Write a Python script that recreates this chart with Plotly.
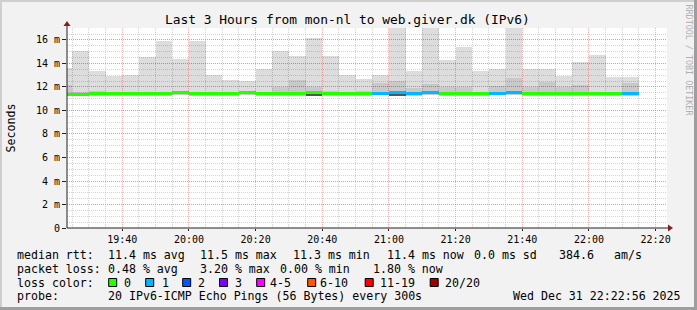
import plotly.graph_objects as go
from datetime import datetime, timedelta

# ---------------- data ----------------
end_times = [
    "2025-12-31 19:25", "2025-12-31 19:30", "2025-12-31 19:35", "2025-12-31 19:40",
    "2025-12-31 19:45", "2025-12-31 19:50", "2025-12-31 19:55", "2025-12-31 20:00",
    "2025-12-31 20:05", "2025-12-31 20:10", "2025-12-31 20:15", "2025-12-31 20:20",
    "2025-12-31 20:25", "2025-12-31 20:30", "2025-12-31 20:35", "2025-12-31 20:40",
    "2025-12-31 20:45", "2025-12-31 20:50", "2025-12-31 20:55", "2025-12-31 21:00",
    "2025-12-31 21:05", "2025-12-31 21:10", "2025-12-31 21:15", "2025-12-31 21:20",
    "2025-12-31 21:25", "2025-12-31 21:30", "2025-12-31 21:35", "2025-12-31 21:40",
    "2025-12-31 21:45", "2025-12-31 21:50", "2025-12-31 21:55", "2025-12-31 22:00",
    "2025-12-31 22:05", "2025-12-31 22:10", "2025-12-31 22:15",
]
median_ms = [11.35, 11.35, 11.42, 11.42, 11.42, 11.42, 11.42, 11.52, 11.42, 11.42,
             11.42, 11.52, 11.42, 11.42, 11.42, 11.52, 11.42, 11.42, 11.42, 11.44,
             11.50, 11.42, 11.50, 11.42, 11.42, 11.42, 11.44, 11.50, 11.42, 11.42,
             11.42, 11.42, 11.42, 11.42, 11.42]
loss_count = [0, 0, 0, 0, 0, 0, 0, 0, 0, 0,
              0, 0, 0, 0, 0, 0, 0, 0, 0, 1,
              1, 1, 1, 0, 0, 0, 1, 1, 0, 0,
              0, 0, 0, 0, 1]
ping_min = [11.20, 11.20, 11.27, 11.27, 11.27, 11.27, 11.27, 11.30, 11.27, 11.27,
            11.27, 11.30, 11.27, 11.27, 11.27, 11.25, 11.27, 11.27, 11.27, 11.28,
            11.25, 11.27, 11.30, 11.27, 11.27, 11.27, 11.28, 11.30, 11.27, 11.27,
            11.27, 11.27, 11.27, 11.27, 11.27]
ping_mid = [12.20, 11.55, 11.63, 11.50, 11.50, 11.50, 11.50, 11.70, 11.55, 11.50,
            11.50, 11.60, 11.50, 12.00, 12.62, 12.00, 11.70, 11.60, 11.70, 12.30,
            12.54, 11.90, 12.28, 12.00, 12.00, 11.50, 12.10, 12.77, 12.00, 12.40,
            11.97, 12.20, 11.55, 11.60, 12.34]
ping_max = [13.64, 15.03, 13.33, 12.90, 13.05, 14.52, 15.88, 14.41, 15.88, 13.05,
            12.62, 12.54, 13.53, 15.09, 14.66, 16.17, 14.66, 13.05, 12.68, 12.99,
            18.50, 13.33, 18.50, 14.32, 15.37, 13.33, 13.56, 18.50, 13.56, 13.50,
            12.90, 14.10, 14.75, 12.82, 12.82]
dense_low = [None] * 15 + [11.27] + [None] * 4 + [11.24] + [None] * 14

y_tick_vals = [0, 2, 4, 6, 8, 10, 12, 14, 16]
y_tick_text = ["0", "2 m", "4 m", "6 m", "8 m", "10 m", "12 m", "14 m", "16 m"]

loss_labels = ["0", "1", "2", "3", "4-5", "6-10", "11-19", "20/20"]
loss_colors = ["#26ff00", "#00b8ff", "#0059ff", "#7e00ff", "#ff00ff", "#ff5500", "#ff0000", "#a10000"]

title_text = "Last 3 Hours from mon-nl to web.giver.dk (IPv6)"
rtt_stats = ["median rtt:", "11.4 ms avg", "11.5 ms max", "11.3 ms min", "11.4 ms now",
             "0.0 ms sd", "384.6", "am/s"]
loss_stats = ["packet loss:", "0.48 % avg", "3.20 % max", "0.00 % min", "1.80 % now"]
probe_text = ["probe:", "20 IPv6-ICMP Echo Pings (56 Bytes) every 300s", "Wed Dec 31 22:22:56 2025"]

x_start = "2025-12-31 19:23:25"
x_end = "2025-12-31 22:23:25"
y_max = 17.02

# ---------------- geometry / style ----------------
W, H = 697, 310
L, R, T, B = 67, 667, 28, 228
MONO = "DejaVu Sans Mono"
STEP_MS = 300000


def px(x):
    return (x - L) / (R - L)


def py(y):
    return (B - y) / (B - T)


px_per_ms = (B - T) / y_max
line_h = 3.0 / px_per_ms

centers = [datetime.strptime(t, "%Y-%m-%d %H:%M") - timedelta(seconds=150) for t in end_times]


def loss_color(n):
    if n <= 3:
        return loss_colors[n]
    if n <= 5:
        return loss_colors[4]
    if n <= 10:
        return loss_colors[5]
    if n <= 19:
        return loss_colors[6]
    return loss_colors[7]


fig = go.Figure()

# smoke: full range
fig.add_trace(go.Bar(
    x=centers, base=ping_min, y=[hi - lo for hi, lo in zip(ping_max, ping_min)],
    width=STEP_MS, marker=dict(color="rgba(0,0,0,0.135)", line=dict(width=0)),
    hoverinfo="skip", showlegend=False))
# smoke: denser inner range
fig.add_trace(go.Bar(
    x=centers, base=ping_min, y=[m - lo for m, lo in zip(ping_mid, ping_min)],
    width=STEP_MS, marker=dict(color="rgba(0,0,0,0.09)", line=dict(width=0)),
    hoverinfo="skip", showlegend=False))
# dense area just below the median
dx = [c for c, d in zip(centers, dense_low) if d is not None]
dbase = [d for d in dense_low if d is not None]
dtop = [m - line_h / 2 for m, d in zip(median_ms, dense_low) if d is not None]
fig.add_trace(go.Bar(
    x=dx, base=dbase, y=[t - b for t, b in zip(dtop, dbase)],
    width=STEP_MS, marker=dict(color="#555555", line=dict(width=0)),
    hoverinfo="skip", showlegend=False))
# median line coloured by loss
fig.add_trace(go.Bar(
    x=centers, base=[m - line_h / 2 for m in median_ms], y=[line_h] * len(median_ms),
    width=STEP_MS, marker=dict(color=[loss_color(n) for n in loss_count], line=dict(width=0)),
    hoverinfo="skip", showlegend=False))

shapes = []
# frame shading
shapes.append(dict(type="rect", xref="paper", yref="paper", x0=px(0), x1=px(W), y0=py(2), y1=py(0),
                   fillcolor="#cfcfcf", line=dict(width=0), layer="below"))
shapes.append(dict(type="rect", xref="paper", yref="paper", x0=px(0), x1=px(2), y0=py(H), y1=py(0),
                   fillcolor="#cfcfcf", line=dict(width=0), layer="below"))
shapes.append(dict(type="rect", xref="paper", yref="paper", x0=px(0), x1=px(W), y0=py(H), y1=py(H - 3),
                   fillcolor="#9e9e9e", line=dict(width=0), layer="below"))
shapes.append(dict(type="rect", xref="paper", yref="paper", x0=px(W - 3), x1=px(W), y0=py(H), y1=py(0),
                   fillcolor="#9e9e9e", line=dict(width=0), layer="below"))
# axis lines
shapes.append(dict(type="line", xref="paper", yref="paper", x0=px(L), x1=px(669), y0=py(B), y1=py(B),
                   line=dict(color="#202020", width=1)))
shapes.append(dict(type="line", xref="paper", yref="paper", x0=px(L), x1=px(L), y0=py(B), y1=py(25),
                   line=dict(color="#202020", width=1)))
# arrows
shapes.append(dict(type="path", xref="paper", yref="paper",
                   path=f"M {px(668)} {py(224.5)} L {px(673)} {py(228)} L {px(668)} {py(231.5)} Z",
                   fillcolor="#801f1f", line=dict(width=0)))
shapes.append(dict(type="path", xref="paper", yref="paper",
                   path=f"M {px(63.5)} {py(26)} L {px(67)} {py(21)} L {px(70.5)} {py(26)} Z",
                   fillcolor="#801f1f", line=dict(width=0)))

annotations = []


def txt(s, x, y, size=11.6, color="#000000", anchor="left", angle=0, yanchor="middle"):
    annotations.append(dict(text=s.replace(" ", "\u00a0"), xref="paper", yref="paper",
                            x=px(x), y=py(y), xanchor=anchor, yanchor=yanchor, showarrow=False,
                            textangle=angle, borderpad=0,
                            font=dict(family=MONO, size=size, color=color)))


txt(title_text, 347, 19, size=12.9, anchor="center")
txt("Seconds", 10.5, 128, anchor="center", angle=-90)
txt("RRDTOOL / TOBI OETIKER", 688.5, 60, size=8.4, color="#b0b0b0", anchor="center", angle=90)

rtt_x = [16, 106.5, 199.3, 292, 386, 472.6, 557.6, 613.3]
for s, x in zip(rtt_stats, rtt_x):
    txt(s, x, 255)
loss_x = [16, 106.5, 199.3, 278.6, 371.6]
for s, x in zip(loss_stats, loss_x):
    txt(s, x, 268.5)
txt("loss color:", 16, 282.5)
box_x = [108.7, 145.7, 182.7, 219.5, 256.7, 307.7, 365.2, 430.2]
lab_x = [122.8, 160.5, 197.3, 234, 269.3, 319.3, 379.3, 444.3]
for lab, col, bx, lx in zip(loss_labels, loss_colors, box_x, lab_x):
    shapes.append(dict(type="rect", xref="paper", yref="paper", x0=px(bx), x1=px(bx + 8),
                       y0=py(286.5), y1=py(278.5), fillcolor=col, line=dict(color="#000000", width=1)))
    txt(lab, lx, 282.5)
probe_x = [16, 106.5, 512]
for s, x in zip(probe_text, probe_x):
    txt(s, x, 296)

grid_minor = "rgba(143,143,143,0.38)"
grid_major = "rgba(222,79,79,0.42)"

fig.update_layout(
    width=W, height=H,
    margin=dict(l=L, r=W - R, t=T, b=H - B, pad=0),
    paper_bgcolor="#f2f2f2", plot_bgcolor="#ffffff",
    barmode="overlay", bargap=0,
    showlegend=False,
    shapes=shapes, annotations=annotations,
    xaxis=dict(
        type="date", range=[x_start, x_end],
        tickmode="linear", tick0="2025-12-31 00:00", dtick=1200000,
        tickformat="%H:%M", showgrid=True, gridcolor=grid_major, griddash="1px,1px", gridwidth=1,
        minor=dict(dtick=STEP_MS, tick0="2025-12-31 00:00", showgrid=True, gridcolor=grid_minor,
                   griddash="1px,1px", gridwidth=1, ticks=""),
        ticks="outside", ticklen=2, tickcolor="#202020",
        tickfont=dict(family=MONO, size=10, color="#000000"),
        showline=False, zeroline=False, fixedrange=True,
    ),
    yaxis=dict(
        range=[0, y_max], tickmode="array", tickvals=y_tick_vals, ticktext=y_tick_text,
        showgrid=True, gridcolor=grid_major, griddash="1px,1px", gridwidth=1,
        minor=dict(tickmode="linear", tick0=0, dtick=0.5, showgrid=True, gridcolor=grid_minor,
                   griddash="1px,1px", gridwidth=1, ticks=""),
        ticks="outside", ticklen=4, tickcolor="#202020",
        tickfont=dict(family=MONO, size=10, color="#000000"),
        showline=False, zeroline=False, fixedrange=True,
    ),
)

fig.write_html("out.html")
